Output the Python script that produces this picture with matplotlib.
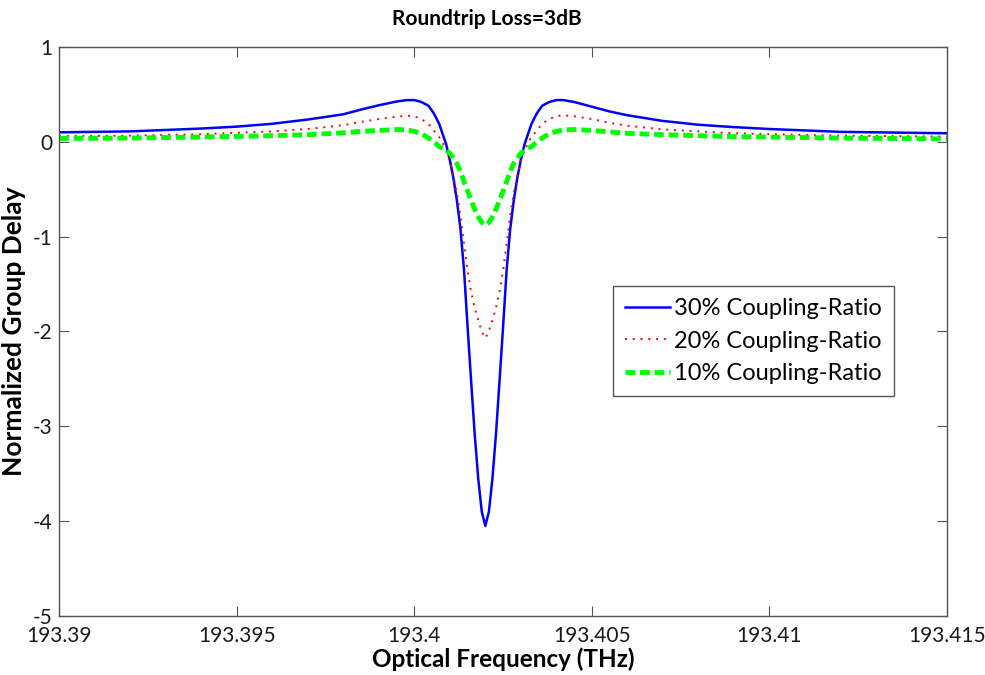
import matplotlib
matplotlib.use("Agg")
import matplotlib.pyplot as plt

# Font setup (Calibri-like look)
plt.rcParams['font.family'] = ['Lato', 'DejaVu Sans']
plt.rcParams['axes.unicode_minus'] = False

# Optical frequency samples (THz), denser around the resonance
freq_thz = [193.3900, 193.3920, 193.3930, 193.3940, 193.3950, 193.3960,
            193.3970, 193.3980, 193.3985, 193.3990, 193.3995, 193.3998,
            193.4000, 193.4002, 193.4004, 193.40055, 193.4007, 193.4008,
            193.4009, 193.4010, 193.4011, 193.4012, 193.4013, 193.4014,
            193.4015, 193.4016, 193.4017, 193.4018, 193.4019, 193.4020,
            193.4021, 193.4022, 193.4023, 193.4024, 193.4025, 193.4026,
            193.4027, 193.4028, 193.4029, 193.4030, 193.4031, 193.4032,
            193.4033, 193.40345, 193.4036, 193.4038, 193.4040, 193.4042,
            193.4045, 193.4050, 193.4055, 193.4060, 193.4070, 193.4080,
            193.4090, 193.4100, 193.4120, 193.4150]

# Normalized group delay, one list per coupling ratio
delay_30 = [0.10, 0.11, 0.125, 0.14, 0.16, 0.19, 0.235, 0.29, 0.34, 0.385,
            0.425, 0.44, 0.44, 0.42, 0.38, 0.30, 0.19, 0.08, -0.03, -0.19,
            -0.38, -0.62, -0.92, -1.35, -1.95, -2.52, -3.08, -3.55, -3.90,
            -4.05, -3.90, -3.55, -3.08, -2.52, -1.95, -1.35, -0.92, -0.62,
            -0.38, -0.19, -0.03, 0.08, 0.19, 0.30, 0.38, 0.42, 0.44, 0.44,
            0.42, 0.37, 0.32, 0.28, 0.22, 0.18, 0.155, 0.135, 0.105, 0.09]
delay_20 = [0.06, 0.065, 0.072, 0.08, 0.095, 0.11, 0.135, 0.175, 0.21, 0.24,
            0.265, 0.275, 0.27, 0.24, 0.19, 0.12, 0.05, -0.01, -0.09, -0.21,
            -0.36, -0.54, -0.78, -1.07, -1.36, -1.58, -1.75, -1.88, -2.00,
            -2.07, -2.00, -1.88, -1.75, -1.58, -1.36, -1.07, -0.78, -0.54,
            -0.36, -0.21, -0.09, -0.01, 0.05, 0.12, 0.19, 0.24, 0.27, 0.28,
            0.27, 0.24, 0.20, 0.17, 0.13, 0.11, 0.09, 0.08, 0.065, 0.055]
delay_10 = [0.035, 0.04, 0.045, 0.05, 0.057, 0.065, 0.075, 0.095, 0.11,
            0.12, 0.13, 0.125, 0.11, 0.085, 0.04, 0.0, -0.05, -0.07, -0.09,
            -0.12, -0.17, -0.23, -0.31, -0.42, -0.52, -0.62, -0.71, -0.79,
            -0.85, -0.88, -0.85, -0.79, -0.71, -0.62, -0.52, -0.42, -0.31,
            -0.23, -0.17, -0.12, -0.09, -0.07, -0.05, 0.0, 0.04, 0.085, 0.11,
            0.125, 0.13, 0.12, 0.105, 0.09, 0.075, 0.065, 0.055, 0.05, 0.04,
            0.03]

series_labels = ['30% Coupling-Ratio', '20% Coupling-Ratio', '10% Coupling-Ratio']

# Tick positions and their text
xtick_values = [193.39, 193.395, 193.4, 193.405, 193.41, 193.415]
xtick_labels = ['193.39', '193.395', '193.4', '193.405', '193.41', '193.415']
ytick_values = [1, 0, -1, -2, -3, -4, -5]
ytick_labels = ['1', '0', '-1', '-2', '-3', '-4', '-5']

fig = plt.figure(figsize=(9.85, 6.75), dpi=100)
ax = fig.add_axes([0.060, 0.0874, 0.9015, 0.843])

# The three curves
ax.plot(freq_thz, delay_30, color='#0000ff', linewidth=1.8,
        label=series_labels[0])
ax.plot(freq_thz, delay_20, color='#ff0000', linewidth=1.4,
        dashes=(1.0, 3.0), label=series_labels[1])
ax.plot(freq_thz, delay_10, color='#00ff00', linewidth=3.5,
        dashes=(2.0, 1.0), label=series_labels[2])

# Axes limits and ticks, MATLAB style (inside, all four sides)
ax.set_xlim(193.39, 193.415)
ax.set_ylim(-5, 1)
ax.set_xticks(xtick_values)
ax.set_xticklabels(xtick_labels)
ax.set_yticks(ytick_values)
ax.set_yticklabels(ytick_labels)
ax.tick_params(axis='both', direction='in', length=7, width=0.8,
               color='#555555', labelsize=15, labelcolor='#1a1a1a',
               top=True, right=True)
ax.tick_params(axis='x', pad=7)
ax.tick_params(axis='y', pad=4.5)
for spine in ax.spines.values():
    spine.set_color('#555555')
    spine.set_linewidth(1.0)

# Titles and labels
ax.set_title('Roundtrip Loss=3dB', fontsize=15, fontweight='bold', pad=16,
             x=0.482)
ax.set_xlabel('Optical Frequency (THz)', fontsize=17.5, fontweight='bold')
ax.set_ylabel('Normalized Group Delay', fontsize=19, fontweight='bold')
ax.xaxis.set_label_coords(0.5, -0.056)
ax.yaxis.set_label_coords(-0.037, 0.5)

# Legend box in the middle right
leg = ax.legend(loc='upper left', bbox_to_anchor=(613 / 985, 1 - 286 / 675),
                bbox_transform=fig.transFigure, borderaxespad=0,
                fontsize=17, frameon=True, fancybox=False, framealpha=1,
                handlelength=1.9, handletextpad=0.2, labelspacing=0.5,
                borderpad=0.5)
leg.get_frame().set_edgecolor('#555555')
leg.get_frame().set_linewidth(1.0)

fig.savefig('out.png', dpi=100)
